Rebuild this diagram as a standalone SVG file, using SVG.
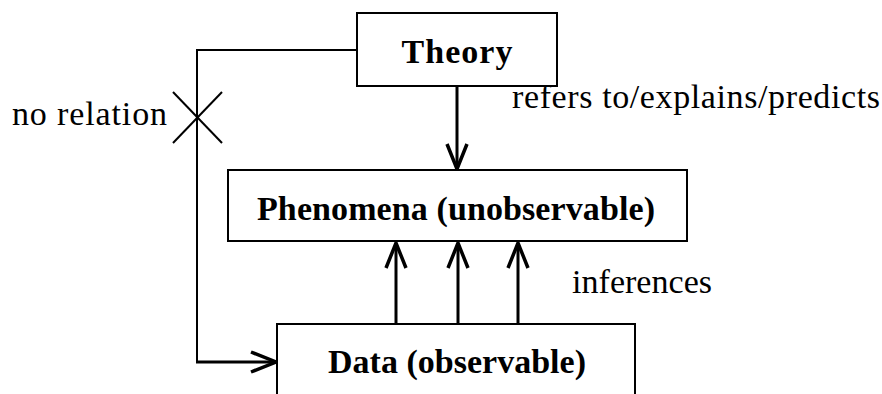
<svg xmlns="http://www.w3.org/2000/svg" width="882" height="394" viewBox="0 0 882 394">
<style>
.box{fill:#fff;stroke:#000;stroke-width:2}
.t{font-family:"Liberation Serif","Times New Roman",serif;font-size:34px;fill:#000}
.b{font-weight:bold;text-anchor:middle}
.thin{fill:none;stroke:#000;stroke-width:2}
.thick{fill:none;stroke:#000;stroke-width:3}
</style>
<defs>
<marker id="arr" markerUnits="userSpaceOnUse" viewBox="-30 -14 34 28" refX="0" refY="0" markerWidth="34" markerHeight="28" orient="auto" overflow="visible">
<path d="M-25,-10 L0,0 L-25,10" fill="none" stroke="#000" stroke-width="3.5"/>
</marker>
</defs>
<g id="connectors">
<polyline class="thin" points="357,50 197,50 197,362"/>
<line class="thick" x1="196" y1="362" x2="276" y2="362" marker-end="url(#arr)"/>
<line class="thin" x1="173" y1="92" x2="222" y2="143"/>
<line class="thin" x1="222" y1="92" x2="173" y2="143"/>
<line class="thick" x1="457" y1="86" x2="457" y2="169" marker-end="url(#arr)"/>
<line class="thick" x1="396" y1="324" x2="396" y2="243" marker-end="url(#arr)"/>
<line class="thick" x1="458" y1="324" x2="458" y2="243" marker-end="url(#arr)"/>
<line class="thick" x1="518" y1="324" x2="518" y2="243" marker-end="url(#arr)"/>
<text class="t" x="12" y="125" textLength="155">no relation</text>
<text class="t" x="512" y="108" textLength="368" font-size="33">refers to/explains/predicts</text>
<text class="t" x="572" y="293" textLength="140">inferences</text>
</g>
<g id="theory">
<rect class="box" x="357" y="13" width="200" height="73"/>
<text class="t b" x="457" y="63" textLength="111">Theory</text>
</g>
<g id="phenomena">
<rect class="box" x="228" y="170" width="459" height="71"/>
<text class="t b" x="456" y="220" textLength="398">Phenomena (unobservable)</text>
</g>
<g id="data">
<rect class="box" x="277" y="324" width="358" height="80"/>
<text class="t b" x="457" y="373" textLength="258">Data (observable)</text>
</g>
</svg>
